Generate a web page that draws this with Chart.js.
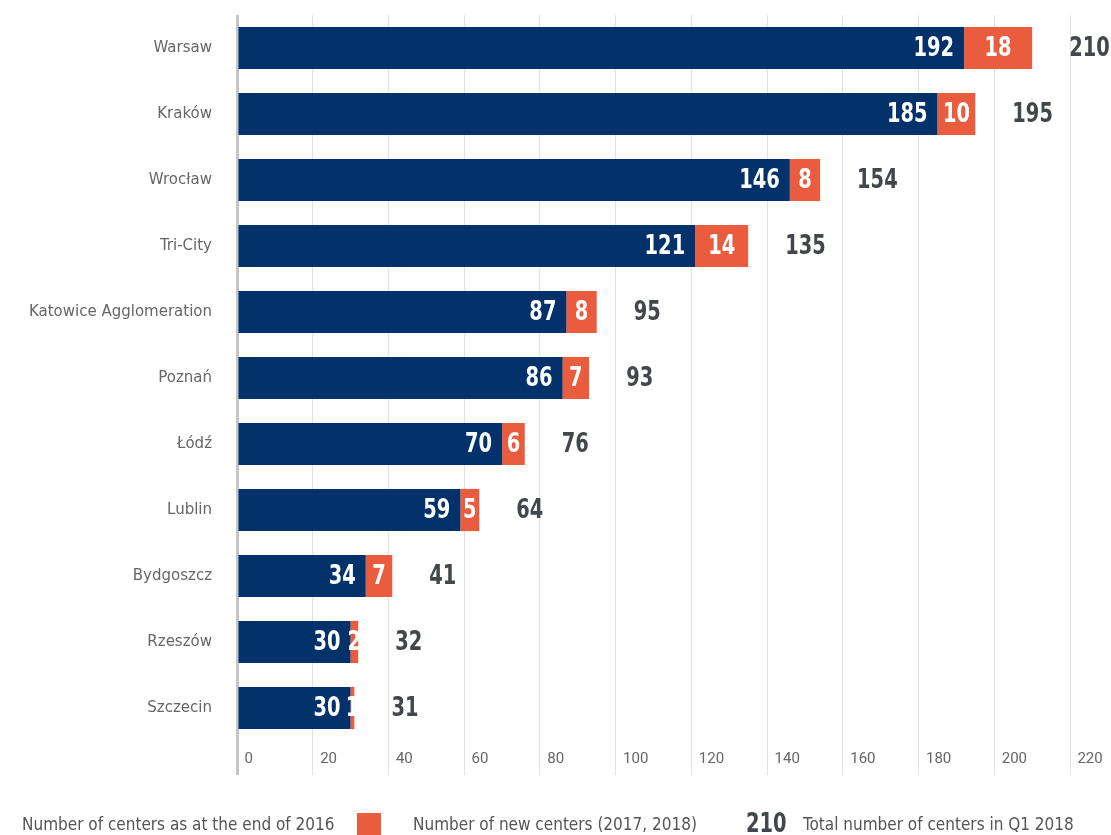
<!DOCTYPE html>
<html>
<head>
<meta charset="utf-8">
<script src="https://cdn.jsdelivr.net/npm/chart.js@4.4.1/dist/chart.umd.min.js"></script>
<style>
  body { margin: 0; background: #fff; }
  canvas { display: block; }
</style>
</head>
<body>
<canvas id="barChart" width="1111" height="835"></canvas>
<script>
var cities = ['Warsaw', 'Kraków', 'Wrocław', 'Tri-City', 'Katowice Agglomeration', 'Poznań', 'Łódź', 'Lublin', 'Bydgoszcz', 'Rzeszów', 'Szczecin'];
var centers2016 = [192, 185, 146, 121, 87, 86, 70, 59, 34, 30, 30];
var newCenters = [18, 10, 8, 14, 8, 7, 6, 5, 7, 2, 1];
var totalCenters = [210, 195, 154, 135, 95, 93, 76, 64, 41, 32, 31];
var xTicks = [0, 20, 40, 60, 80, 100, 120, 140, 160, 180, 200, 220];

var NAVY = '#03326b';
var ORANGE = '#e95c3e';
var numFont = "'DejaVu Sans Condensed', 'DejaVu Sans', sans-serif";

// narrow text: squeeze horizontally, like the condensed font in the original
function narrowText(ctx, text, x, y, align) {
    ctx.save();
    ctx.translate(x, y);
    ctx.scale(0.8, 1);
    ctx.textAlign = align;
    ctx.fillText(text, 0, 0);
    ctx.restore();
}

// value labels inside bars + totals on the right
var barLabels = {
    id: 'barLabels',
    afterDatasetsDraw: function (chart) {
        var ctx = chart.ctx;
        var navy = chart.getDatasetMeta(0).data;
        var orange = chart.getDatasetMeta(1).data;
        ctx.save();
        ctx.font = 'bold 27px ' + numFont;
        ctx.textBaseline = 'middle';
        for (var i = 0; i < navy.length; i++) {
            var b = navy[i];
            var o = orange[i];
            ctx.fillStyle = '#fff';
            narrowText(ctx, String(centers2016[i]), b.x - 10, b.y + 1, 'right');
            narrowText(ctx, String(newCenters[i]), (o.x + o.base) / 2, o.y + 1, 'center');
            ctx.fillStyle = '#43474b';
            narrowText(ctx, String(totalCenters[i]), o.x + 37, o.y + 1, 'left');
        }
        ctx.restore();
    }
};

// legend row at the bottom
var bottomLegend = {
    id: 'bottomLegend',
    afterDraw: function (chart) {
        var ctx = chart.ctx;
        var y = 826;
        ctx.save();
        ctx.textBaseline = 'middle';
        ctx.textAlign = 'left';
        ctx.fillStyle = '#555';
        ctx.font = '17px ' + numFont;
        ctx.fillText('Number of centers as at the end of 2016', 22, y);
        ctx.fillStyle = ORANGE;
        ctx.fillRect(357, 813, 24, 22);
        ctx.fillStyle = '#555';
        ctx.fillText('Number of new centers (2017, 2018)', 413, y);
        ctx.fillStyle = '#43474b';
        ctx.font = 'bold 27px ' + numFont;
        narrowText(ctx, '210', 746, y - 1, 'left');
        ctx.fillStyle = '#555';
        ctx.font = '17px ' + numFont;
        ctx.fillText('Total number of centers in Q1 2018', 803, y);
        ctx.restore();
    }
};

var ctx = document.getElementById('barChart').getContext('2d');
var myChart = new Chart(ctx, {
    type: 'bar',
    data: {
        labels: cities,
        datasets: [{
            label: 'Number of centers as at the end of 2016',
            data: centers2016,
            backgroundColor: NAVY,
            barPercentage: 0.64,
            categoryPercentage: 1
        }, {
            label: 'Number of new centers (2017, 2018)',
            data: newCenters,
            backgroundColor: ORANGE,
            barPercentage: 0.64,
            categoryPercentage: 1
        }]
    },
    options: {
        indexAxis: 'y',
        responsive: false,
        animation: false,
        layout: { padding: { top: 15, right: 41, left: 0, bottom: 0 } },
        plugins: {
            legend: { display: false },
            tooltip: { enabled: false }
        },
        scales: {
            x: {
                stacked: true,
                min: 0,
                max: 220,
                afterBuildTicks: function (scale) {
                    scale.ticks = xTicks.map(function (v) { return { value: v }; });
                },
                afterFit: function (scale) { scale.height = 94; },
                border: { display: false },
                grid: {
                    color: function (c) { return c.index === 0 ? '#c4c4c4' : '#e2e2e2'; },
                    lineWidth: function (c) { return c.index === 0 ? 3 : 1; },
                    tickLength: 34,
                    tickColor: function (c) { return c.index === 0 ? '#c4c4c4' : '#e2e2e2'; }
                },
                ticks: {
                    align: 'start',
                    padding: -25,
                    color: '#666',
                    font: { family: 'Roboto', size: 15 },
                    callback: function (v) { return '  ' + v; }
                }
            },
            y: {
                stacked: true,
                afterFit: function (scale) {
                    scale.width = 237;
                    scale.paddingTop = 0;
                    scale.paddingBottom = 0;
                },
                border: { display: false },
                grid: { display: false },
                ticks: {
                    padding: 17,
                    color: '#666',
                    font: { family: 'DejaVu Sans', size: 15 }
                }
            }
        }
    },
    plugins: [barLabels, bottomLegend]
});
</script>
</body>
</html>
